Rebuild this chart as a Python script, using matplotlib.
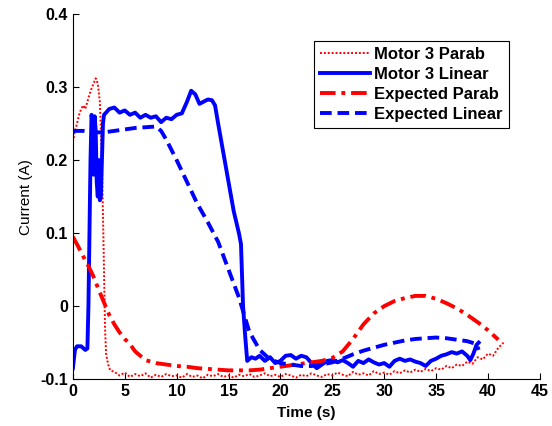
import matplotlib
matplotlib.use("Agg")
import matplotlib.pyplot as plt

# Motor 3 Parab (measured, dotted)
t_m3_parab = [0, 0.2, 0.4, 0.6, 0.8, 1.0, 1.2, 1.4, 1.6, 1.8, 2.0, 2.2, 2.4, 2.6,
              2.8, 3.0, 3.1, 3.2, 3.4, 3.6, 4.0, 4.5, 5.0, 5.5, 6.0, 6.5, 7.0,
              7.5, 8.0, 8.5, 9.0, 9.5, 10.0, 10.5, 11.0, 11.5, 12.0, 12.5, 13.0,
              13.5, 14.0, 14.5, 15.0, 15.5, 16.0, 16.5, 17.0, 17.5, 18.0, 18.5,
              19.0, 19.5, 20.0, 20.5, 21.0, 21.5, 22.0, 22.5, 23.0, 23.5, 24.0,
              24.5, 25.0, 25.5, 26.0, 26.5, 27.0, 27.5, 28.0, 28.5, 29.0, 29.5,
              30.0, 30.5, 31.0, 31.5, 32.0, 32.5, 33.0, 33.5, 34.0, 34.5, 35.0,
              35.5, 36.0, 36.5, 37.0, 37.5, 38.0, 38.5, 39.0, 39.5, 40.0, 40.5,
              41.0, 41.5]
y_m3_parab = [0.225, 0.24, 0.25, 0.262, 0.27, 0.275, 0.27, 0.28, 0.29, 0.298,
              0.305, 0.312, 0.305, 0.28, 0.2, 0.05, -0.03, -0.065, -0.08, -0.088,
              -0.09, -0.095, -0.091, -0.097, -0.093, -0.096, -0.092, -0.098,
              -0.094, -0.097, -0.093, -0.096, -0.095, -0.098, -0.093, -0.097,
              -0.095, -0.099, -0.094, -0.096, -0.093, -0.097, -0.095, -0.098,
              -0.094, -0.096, -0.093, -0.097, -0.095, -0.092, -0.096, -0.094,
              -0.097, -0.093, -0.095, -0.098, -0.094, -0.096, -0.092, -0.095,
              -0.097, -0.093, -0.095, -0.091, -0.094, -0.096, -0.09, -0.094,
              -0.092, -0.095, -0.089, -0.093, -0.091, -0.094, -0.089, -0.092,
              -0.088, -0.091, -0.087, -0.09, -0.086, -0.089, -0.085, -0.087,
              -0.082, -0.085, -0.08, -0.082, -0.076, -0.079, -0.07, -0.073,
              -0.065, -0.068, -0.057, -0.05]

# Motor 3 Linear (measured, solid)
t_m3_lin = [0, 0.2, 0.4, 0.8, 1.2, 1.4, 1.5, 1.6, 1.7, 1.8, 1.9, 2.0, 2.1, 2.2,
            2.3, 2.4, 2.5, 2.6, 2.7, 2.8, 2.9, 3.0, 3.2, 3.5, 4.0, 4.5, 5.0, 5.5,
            6.0, 6.5, 7.0, 7.5, 8.0, 8.5, 9.0, 9.5, 10.0, 10.5, 11.0, 11.4, 11.8,
            12.2, 12.6, 13.0, 13.4, 13.7, 14.0, 14.5, 15.0, 15.5, 16.0, 16.2,
            16.4, 16.6, 16.8, 17.2, 17.6, 18.0, 18.5, 19.0, 19.5, 20.0, 20.5,
            21.0, 21.5, 22.0, 22.5, 23.0, 23.5, 24.0, 24.5, 25.0, 25.5, 26.0,
            26.5, 27.0, 27.5, 28.0, 28.5, 29.0, 29.5, 30.0, 30.5, 31.0, 31.5,
            32.0, 32.5, 33.0, 33.5, 34.0, 34.5, 35.0, 35.5, 36.0, 36.5, 37.0,
            37.5, 38.0, 38.3, 38.6, 38.9, 39.1]
y_m3_lin = [-0.085, -0.06, -0.055, -0.055, -0.06, -0.058, 0.0, 0.1, 0.2, 0.262,
            0.25, 0.18, 0.26, 0.24, 0.17, 0.15, 0.2, 0.145, 0.15, 0.2, 0.25,
            0.262, 0.265, 0.27, 0.272, 0.265, 0.268, 0.262, 0.265, 0.258, 0.262,
            0.258, 0.26, 0.252, 0.258, 0.256, 0.262, 0.264, 0.28, 0.295, 0.29,
            0.277, 0.28, 0.283, 0.282, 0.275, 0.25, 0.21, 0.17, 0.13, 0.1,
            0.085, 0.0, -0.04, -0.075, -0.07, -0.072, -0.068, -0.075, -0.07,
            -0.078, -0.075, -0.068, -0.067, -0.072, -0.068, -0.07, -0.078,
            -0.085, -0.08, -0.075, -0.074, -0.077, -0.074, -0.078, -0.083,
            -0.075, -0.078, -0.073, -0.077, -0.08, -0.078, -0.083, -0.075,
            -0.072, -0.075, -0.073, -0.076, -0.078, -0.082, -0.075, -0.072,
            -0.068, -0.066, -0.063, -0.065, -0.062, -0.068, -0.074, -0.065,
            -0.053, -0.05]

# Expected Parab (dash-dot)
t_exp_parab = [0, 0.5, 1, 1.5, 2, 2.5, 3, 3.5, 4, 4.5, 5, 5.5, 6, 7, 8, 9, 10,
               11, 12, 13, 14, 15, 16, 17, 18, 19, 20, 21, 22, 23, 24, 25, 26,
               27, 28, 29, 30, 31, 32, 33, 34, 35, 36, 37, 38, 39, 40, 41]
y_exp_parab = [0.095, 0.082, 0.068, 0.055, 0.04, 0.022, 0.005, -0.012, -0.025,
               -0.036, -0.045, -0.052, -0.062, -0.074, -0.078, -0.08, -0.082,
               -0.083, -0.085, -0.086, -0.087, -0.088, -0.088, -0.088, -0.087,
               -0.085, -0.083, -0.081, -0.079, -0.077, -0.075, -0.071, -0.062,
               -0.045, -0.025, -0.01, 0.0, 0.007, 0.011, 0.014, 0.014, 0.01,
               0.004, -0.003, -0.012, -0.022, -0.033, -0.046]

# Expected Linear (dashed)
t_exp_lin = [0, 1, 2, 3, 4, 5, 6, 7, 8, 8.5, 9, 10, 11, 12, 13, 14, 15, 16, 17,
             18, 19, 20, 21, 22, 23, 24, 25, 26, 27, 28, 29, 30, 31, 32, 33, 34,
             35, 36, 37, 38, 38.9, 39.1]
y_exp_lin = [0.24, 0.24, 0.238, 0.238, 0.24, 0.242, 0.244, 0.245, 0.246, 0.24,
             0.228, 0.2, 0.17, 0.14, 0.115, 0.088, 0.05, 0.012, -0.035, -0.06,
             -0.073, -0.078, -0.08, -0.082, -0.082, -0.08, -0.077, -0.072,
             -0.066, -0.061, -0.057, -0.053, -0.05, -0.047, -0.045, -0.044,
             -0.043, -0.044, -0.046, -0.048, -0.052, -0.06]

x_ticks = [0, 5, 10, 15, 20, 25, 30, 35, 40, 45]
y_ticks = [-0.1, 0, 0.1, 0.2, 0.3, 0.4]
y_tick_labels = ["-0.1", "0", "0.1", "0.2", "0.3", "0.4"]

plt.rcParams["font.family"] = ["Liberation Sans", "DejaVu Sans"]
plt.rcParams["font.weight"] = "bold"

fig = plt.figure(figsize=(5.52, 4.26), dpi=100)
ax = fig.add_axes([0.132, 0.110, 0.846, 0.857])

ax.plot(t_m3_parab, y_m3_parab, color="red", linestyle=(0, (1, 1)), lw=1.4,
        label="Motor 3 Parab")
ax.plot(t_m3_lin, y_m3_lin, color="blue", linestyle="-", lw=2.8,
        label="Motor 3 Linear")
ax.plot(t_exp_parab, y_exp_parab, color="red", linestyle=(0, (4, 1.5, 1, 1.5)),
        lw=2.8, label="Expected Parab")
ax.plot(t_exp_lin, y_exp_lin, color="blue", linestyle=(0, (3, 1.5)), lw=2.8,
        label="Expected Linear")

ax.set_xlim(0, 45)
ax.set_ylim(-0.1, 0.4)
ax.set_xticks(x_ticks)
ax.set_yticks(y_ticks)
ax.set_yticklabels(y_tick_labels)
ax.tick_params(direction="in", labelsize=11.5, length=4)
ax.spines["top"].set_visible(False)
ax.spines["right"].set_visible(False)
ax.set_xlabel("Time (s)", fontsize=11, fontweight="bold", labelpad=5)
ax.set_ylabel("Current (A)", fontsize=11, fontweight="normal", labelpad=5)

leg = ax.legend(loc="upper right", bbox_to_anchor=(0.933, 0.925), fontsize=12,
                fancybox=False, framealpha=1, edgecolor="black",
                handlelength=3.0, handletextpad=0.25, borderpad=0.35,
                labelspacing=0.3, borderaxespad=0)
leg.get_frame().set_linewidth(0.8)

fig.savefig("out.png", dpi=100)
